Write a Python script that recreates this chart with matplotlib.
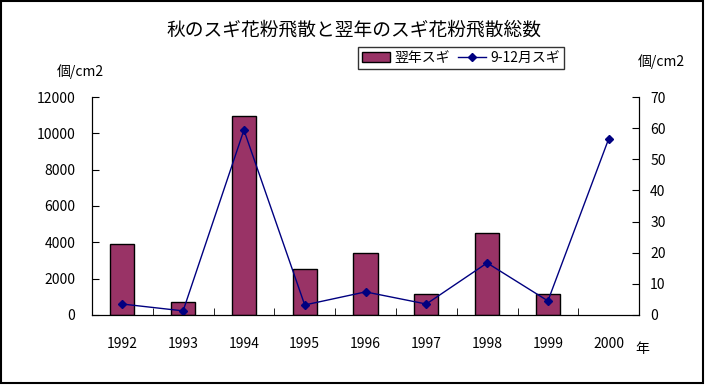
import matplotlib.pyplot as plt
import numpy as np

plt.rcParams['font.family'] = ['Noto Sans CJK JP', 'DejaVu Sans']

years = ['1992', '1993', '1994', '1995', '1996', '1997', '1998', '1999', '2000']
next_year = [3900, 700, 10950, 2530, 3400, 1150, 4500, 1150, np.nan]
autumn = [3.5, 1.3, 59.4, 3.2, 7.4, 3.5, 16.7, 4.5, 56.6]

bar_color = '#993366'
line_color = '#000080'

fig = plt.figure(figsize=(7.07, 3.85), dpi=100)
ax = fig.add_axes([0.130, 0.182, 0.774, 0.566])
ax2 = ax.twinx()

x = np.arange(len(years))
bars = ax.bar(x, next_year, width=0.4, color=bar_color, edgecolor='black', linewidth=1, label='翌年スギ')
line, = ax2.plot(x, autumn, color=line_color, lw=1, marker='D', ms=4, label='9-12月スギ')

ax.set_xlim(-0.5, len(years) - 0.5)
ax.set_ylim(0, 12000)
ax.set_yticks(range(0, 12001, 2000))
ax2.set_ylim(0, 70)
ax2.set_yticks(range(0, 71, 10))

ax.set_xticks(x)
ax.set_xticklabels(years)
ax.set_xticks(np.arange(0.5, len(years) - 1, 1), minor=True)
ax.tick_params(axis='x', which='major', length=0, pad=16, labelsize=10)
ax.tick_params(axis='x', which='minor', direction='in', length=5)
ax.tick_params(axis='y', direction='in', length=5, pad=12, labelsize=10)
ax2.tick_params(axis='y', direction='in', length=5, pad=8, labelsize=10)

for a in (ax, ax2):
    a.spines['top'].set_visible(False)

fig.text(0.5, 0.922, '秋のスギ花粉飛散と翌年のスギ花粉飛散総数', ha='center', va='center', fontsize=13.5)
fig.text(0.113, 0.815, '個/cm2', ha='center', va='center', fontsize=10)
fig.text(0.936, 0.84, '個/cm2', ha='center', va='center', fontsize=10)
fig.text(0.908, 0.093, '年', ha='center', va='center', fontsize=10)

leg = fig.legend(handles=[bars, line], loc='center', bbox_to_anchor=(0.652, 0.849),
                 ncol=2, frameon=True, fancybox=False, edgecolor='black',
                 fontsize=10, handlelength=2.0, handletextpad=0.3, columnspacing=0.6,
                 borderpad=0.3)
leg.get_frame().set_linewidth(1)

fig.patches.append(plt.Rectangle((0.002, 0.004), 0.993, 0.993, transform=fig.transFigure,
                                 fill=False, edgecolor='black', lw=1.5))

fig.savefig('out.png', dpi=100)
